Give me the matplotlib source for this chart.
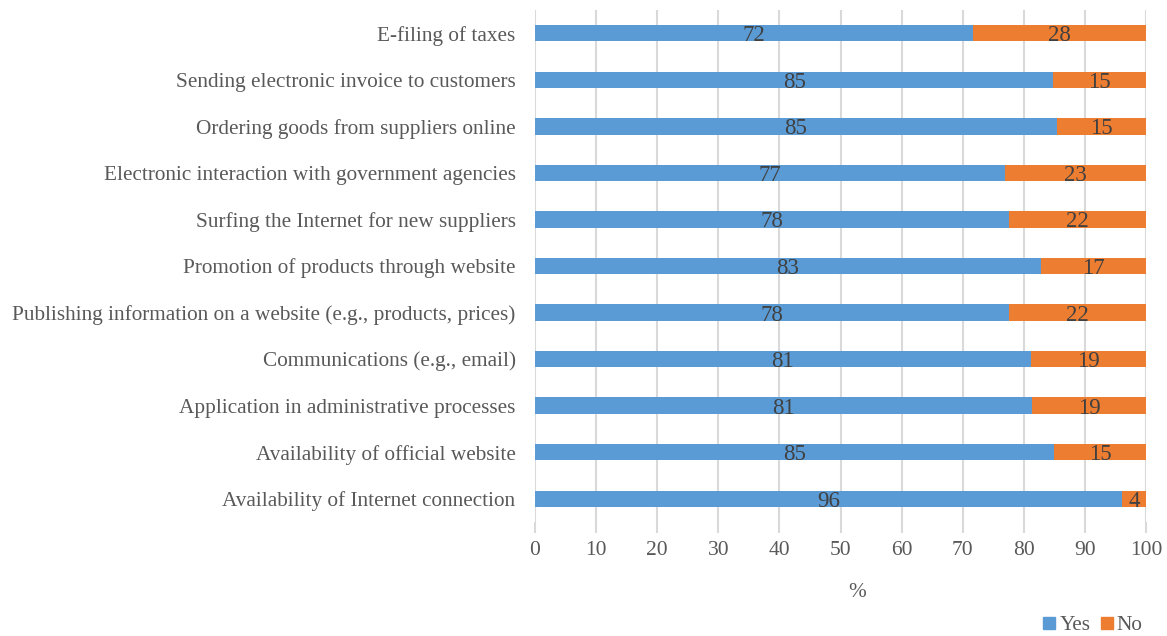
import matplotlib.pyplot as plt
from matplotlib.patches import Patch

# data, listed top to bottom as in the chart
categories = [
    'E-filing of taxes',
    'Sending electronic invoice to customers',
    'Ordering goods from suppliers online',
    'Electronic interaction with government agencies',
    'Surfing the Internet for new suppliers',
    'Promotion of products through website',
    'Publishing information on a website (e.g., products, prices)',
    'Communications (e.g., email)',
    'Application in administrative processes',
    'Availability of official website',
    'Availability of Internet connection',
]
yes = [71.7, 84.8, 85.4, 76.9, 77.6, 82.8, 77.6, 81.1, 81.4, 85.0, 96.1]
no = [28.3, 15.2, 14.6, 23.1, 22.4, 17.2, 22.4, 18.9, 18.6, 15.0, 3.9]
series_names = ['Yes', 'No']
xticks = [0, 10, 20, 30, 40, 50, 60, 70, 80, 90, 100]

BLUE = '#5B9BD5'
ORANGE = '#ED7D31'
TEXT = '#595959'

plt.rcParams['font.family'] = ['Liberation Serif', 'DejaVu Serif']

fig = plt.figure(figsize=(11.67, 6.36), dpi=100)
ax = fig.add_axes([535 / 1167, 1 - 522 / 636, 611 / 1167, 512 / 636])

pos = list(range(len(categories)))
ax.barh(pos, yes, height=0.35, color=BLUE, zorder=3)
ax.barh(pos, no, left=yes, height=0.35, color=ORANGE, zorder=3)

for i in pos:
    ax.text(yes[i] / 2, i, f'{yes[i]:.0f}', ha='center', va='center_baseline',
            fontsize=16.5, color='#404040', zorder=4)
    ax.text(yes[i] + no[i] / 2, i, f'{no[i]:.0f}', ha='center', va='center_baseline',
            fontsize=16.5, color='#404040', zorder=4)

ax.set_ylim(len(categories) - 0.5, -0.5)
ax.set_yticks(pos)
ax.set_yticklabels(categories, fontsize=15.3, color=TEXT)
ax.set_xlim(0, 100)
ax.set_xticks(xticks)
ax.set_xticklabels([str(t) for t in xticks], fontsize=15.5, color=TEXT)
ax.tick_params(axis='y', length=0, pad=14)
ax.tick_params(axis='x', length=8, width=1.5, color='#D9D9D9', pad=6)
ax.grid(axis='x', color='#D9D9D9', linewidth=1.5, zorder=0)
for s in ax.spines.values():
    s.set_visible(False)

ax.set_xlabel('%', fontsize=15.3, color=TEXT, labelpad=16, x=0.527)

handles = [Patch(color=BLUE), Patch(color=ORANGE)]
fig.legend(handles, series_names, loc='center', bbox_to_anchor=(1093 / 1167, 1 - 626 / 636),
           ncol=2, frameon=False, fontsize=15.3, labelcolor=TEXT,
           handlelength=0.55, handleheight=0.55, handletextpad=0.2, columnspacing=0.5)

fig.savefig('out.png', dpi=100)
